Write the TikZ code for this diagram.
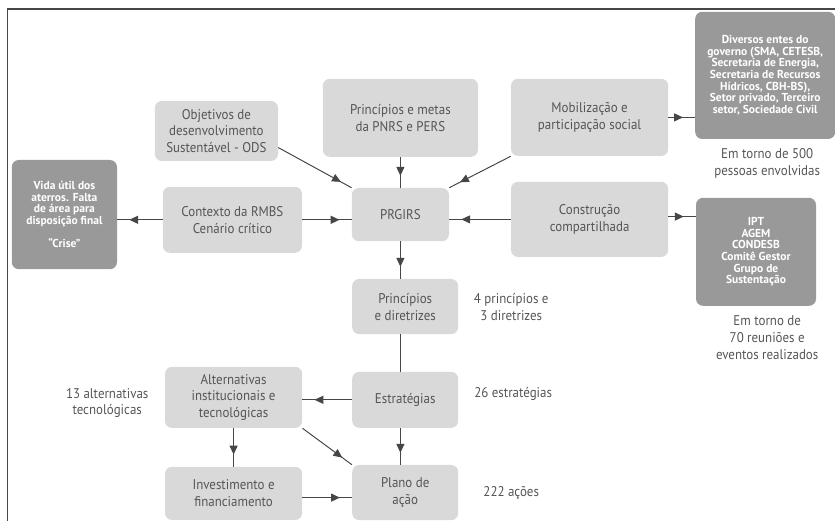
\documentclass[tikz,border=0pt]{standalone}
\usepackage{fontspec}
\setmainfont{PT Sans}[FakeStretch=0.92]
\newfontfamily\darkfont{PT Sans}
\usepackage{tikz}
\usetikzlibrary{arrows.meta, decorations.markings, positioning}

\definecolor{boxlight}{RGB}{217,217,217}
\definecolor{boxdark}{RGB}{153,153,153}
\definecolor{textgray}{RGB}{85,85,85}
\definecolor{linegray}{RGB}{70,70,70}

\begin{document}
\begin{tikzpicture}[
    font=\fontsize{10}{12}\selectfont,
    box/.style={
        rectangle, fill=boxlight, draw=none, text=textgray,
        rounded corners=5pt, align=center, inner sep=2pt
    },
    darkbox/.style={
        rectangle, fill=boxdark, draw=none, text=white,
        rounded corners=5pt, align=center, inner sep=2pt,
        font=\darkfont\fontsize{8.2}{8.3}\selectfont\bfseries
    },
    note/.style={
        align=center, text=textgray, inner sep=0pt
    },
    arrow/.style={
        draw=linegray, line width=0.7pt, postaction={decorate},
        decoration={markings, mark=at position -0.3cm with {\arrow{Triangle[length=0.22cm, width=0.2cm]}}}
    },
    plain/.style={
        draw=linegray, line width=0.7pt
    }
]
    \useasboundingbox (0,0) rectangle (20.875,13.025);

    % frame (left and top edges only)
    \coordinate (frame_bl) at (0.19,0);
    \coordinate (frame_tl) at (0.19,12.8);
    \coordinate (frame_tr) at (20.875,12.8);
    \draw [linegray, line width=1pt] (frame_bl) -- (frame_tl) -- (frame_tr);

    % =========================================================================
    % TOP ROW: INPUTS TO THE PLAN
    % =========================================================================
    \node [box, minimum width=3.08cm, minimum height=1.5cm] (ods) at (5.41, 9.75) {Objetivos de\\desenvolvimento\\Sustentável - ODS};
    \node [box, minimum width=3.88cm, minimum height=1.95cm] (pnrs) at (10.01, 10.08) {Princípios e metas\\da PNRS e PERS};
    \node [box, minimum width=3.93cm, minimum height=1.93cm] (mobil) at (14.74, 10.09) {Mobilização e\\participação social};
    \node [darkbox, minimum width=3.5cm, minimum height=3.18cm] (entes) at (19.13, 11.14) {Diversos entes do\\governo (SMA, CETESB,\\Secretaria de Energia,\\Secretaria de Recursos\\Hídricos, CBH-BS),\\Setor privado, Terceiro\\setor, Sociedade Civil};
    \node [note] (entes_note) at (19.18, 8.95) {Em torno de 500\\pessoas envolvidas};

    % =========================================================================
    % MIDDLE ROW: CONTEXT, PRGIRS, SHARED CONSTRUCTION
    % =========================================================================
    \node [darkbox, minimum width=2.63cm, minimum height=2.73cm] (crise) at (1.61, 7.66) {Vida útil dos\\aterros. Falta\\de área para\\disposição final\\[8.3pt]“Crise”};
    \node [box, minimum width=3.48cm, minimum height=1.65cm] (contexto) at (5.81, 7.53) {Contexto da RMBS\\Cenário crítico};
    \node [box, minimum width=2.43cm, minimum height=1.33cm] (prgirs) at (10.01, 7.66) {PRGIRS};
    \node [box, minimum width=3.93cm, minimum height=1.88cm] (constr) at (14.74, 7.54) {Construção\\compartilhada};
    \node [darkbox, minimum width=3.0cm, minimum height=2.7cm] (orgaos) at (18.9, 6.73) {IPT\\AGEM\\CONDESB\\Comitê Gestor\\Grupo de\\Sustentação};
    \node [note] (orgaos_note) at (19.18, 4.58) {Em torno de\\70 reuniões e\\eventos realizados};

    % =========================================================================
    % LOWER PART: PLAN STRUCTURE
    % =========================================================================
    \node [box, minimum width=2.65cm, minimum height=1.38cm] (diretrizes) at (10.13, 5.36) {Princípios\\e diretrizes};
    \node [note] (diretrizes_note) at (12.78, 5.35) {4 princípios e\\3 diretrizes};
    \node [box, minimum width=2.65cm, minimum height=1.4cm] (estrat) at (10.13, 3.03) {Estratégias};
    \node [note] (estrat_note) at (12.83, 3.18) {26 estratégias};
    \node [box, minimum width=3.43cm, minimum height=1.53cm] (altern) at (5.84, 3.09) {Alternativas\\institucionais e\\tecnológicas};
    \node [note] (altern_note) at (2.68, 2.95) {13 alternativas\\tecnológicas};
    \node [box, minimum width=3.43cm, minimum height=1.33cm] (invest) at (5.84, 0.69) {Investimento e\\financiamento};
    \node [box, minimum width=2.65cm, minimum height=1.38cm] (plano) at (10.13, 0.71) {Plano de\\ação};
    \node [note] (plano_note) at (12.78, 0.7) {222 ações};

    % =========================================================================
    % FLOWS
    % =========================================================================
    % inputs into PRGIRS
    \draw [arrow] (ods.-15) -- (prgirs.north west);
    \draw [arrow] (pnrs.south -| prgirs) -- (prgirs.north);
    \draw [arrow] (mobil.south west) -- (prgirs.north east);
    \draw [arrow] (contexto.east) -- (contexto.east -| prgirs.west);
    \draw [arrow] (constr.west) -- (constr.west -| prgirs.east);

    % outward links
    \draw [arrow] (contexto.west) -- (contexto.west -| crise.east);
    \draw [arrow] (mobil.east) -- (mobil.east -| entes.west);
    \draw [arrow] ([yshift=2pt]constr.east) -- ([yshift=2pt]constr.east -| orgaos.west);

    % plan chain
    \draw [arrow] (prgirs.south) -- (prgirs.south |- diretrizes.north);
    \draw [plain] (diretrizes.south -| prgirs) -- (estrat.north -| prgirs);
    \draw [arrow] (estrat.south -| prgirs) -- (plano.north -| prgirs);
    \draw [arrow] (estrat.west) -- (estrat.west -| altern.east);
    \draw [arrow] (altern.south) -- (invest.north);
    \draw [arrow] (altern.south east) -- (plano.north west);
    \draw [arrow] ([yshift=-3pt]invest.east) -- ([yshift=-3pt]invest.east -| plano.west);

\end{tikzpicture}
\end{document}
